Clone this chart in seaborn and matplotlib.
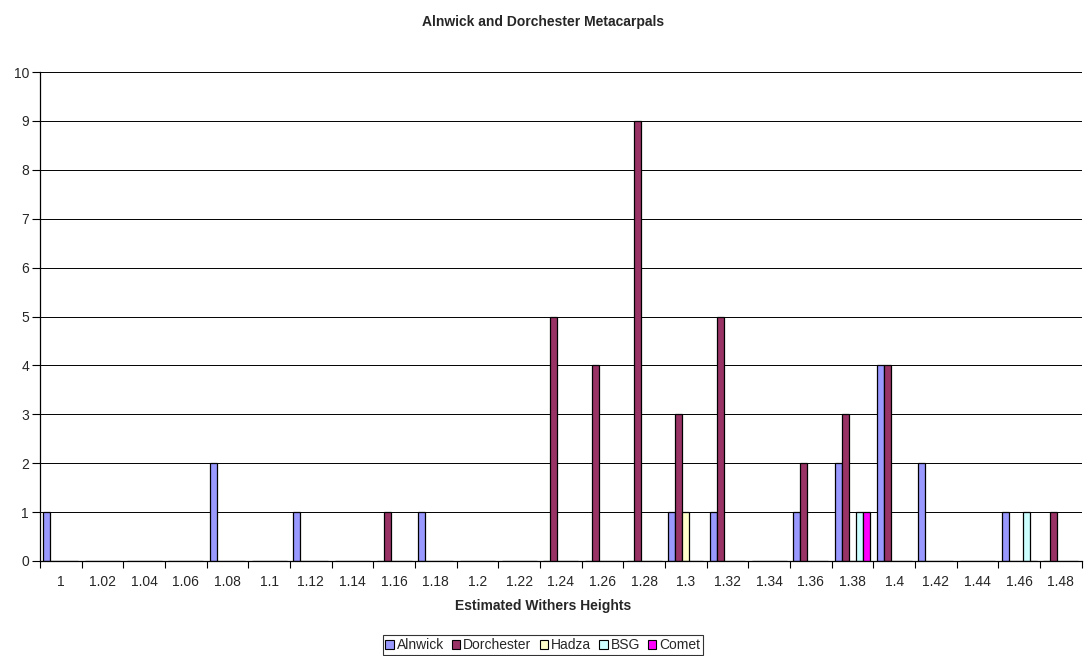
import pandas as pd
import matplotlib
matplotlib.use("Agg")
import matplotlib.pyplot as plt
import seaborn as sns
from matplotlib.patches import Patch

# Withers height classes (x categories)
heights = ["1", "1.02", "1.04", "1.06", "1.08", "1.1", "1.12", "1.14", "1.16", "1.18",
           "1.2", "1.22", "1.24", "1.26", "1.28", "1.3", "1.32", "1.34", "1.36", "1.38",
           "1.4", "1.42", "1.44", "1.46", "1.48"]

# counts per site
alnwick    = [1, 0, 0, 0, 2, 0, 1, 0, 0, 1, 0, 0, 0, 0, 0, 1, 1, 0, 1, 2, 4, 2, 0, 1, 0]
dorchester = [0, 0, 0, 0, 0, 0, 0, 0, 1, 0, 0, 0, 5, 4, 9, 3, 5, 0, 2, 3, 4, 0, 0, 0, 1]
hadza      = [0, 0, 0, 0, 0, 0, 0, 0, 0, 0, 0, 0, 0, 0, 0, 1, 0, 0, 0, 0, 0, 0, 0, 0, 0]
bsg        = [0, 0, 0, 0, 0, 0, 0, 0, 0, 0, 0, 0, 0, 0, 0, 0, 0, 0, 0, 1, 0, 0, 0, 1, 0]
comet      = [0, 0, 0, 0, 0, 0, 0, 0, 0, 0, 0, 0, 0, 0, 0, 0, 0, 0, 0, 1, 0, 0, 0, 0, 0]

sites = ["Alnwick", "Dorchester", "Hadza", "BSG", "Comet"]
colors = ["#9999FF", "#993366", "#FFFFCC", "#CCFFFF", "#FF00FF"]

series = [alnwick, dorchester, hadza, bsg, comet]
rows = []
for site, vals in zip(sites, series):
    for h, v in zip(heights, vals):
        rows.append({"Height": h, "Site": site, "Count": v})
df = pd.DataFrame(rows)

sns.set_style("white")
plt.rcParams["font.family"] = ["Liberation Sans", "DejaVu Sans"]

fig = plt.figure(figsize=(10.9, 6.56), dpi=100)
ax = fig.add_axes([40 / 1090, 95 / 656, 1041.7 / 1090, 489 / 656])

sns.barplot(data=df, x="Height", y="Count", hue="Site", order=heights,
            hue_order=sites, palette=colors, width=0.84, edgecolor="black",
            linewidth=0.9, saturation=1, legend=False, ax=ax)

ax.set_xlim(-0.5, len(heights) - 0.5)
ax.set_ylim(0, 10)
ax.set_yticks(range(0, 11))
ax.yaxis.grid(True, color="black", linewidth=0.7)
ax.set_axisbelow(True)

# category boundaries get the tick marks, labels sit in between
ax.set_xticks([i - 0.5 for i in range(len(heights) + 1)], minor=True)
ax.tick_params(axis="x", which="major", length=0, pad=10, labelsize=10)
ax.tick_params(axis="x", which="minor", length=5, width=0.8, color="black", direction="out")
ax.tick_params(axis="y", length=6, width=0.8, color="black", direction="out", pad=2, labelsize=10)
ax.xaxis.set_ticks_position("bottom")
ax.yaxis.set_ticks_position("left")

for s in ["top", "right"]:
    ax.spines[s].set_visible(False)
for s in ["left", "bottom"]:
    ax.spines[s].set_color("black")
    ax.spines[s].set_linewidth(0.9)

ax.set_xlabel("")
ax.set_ylabel("")

fig.text(0.498, 1 - 22 / 656, "Alnwick and Dorchester Metacarpals",
         ha="center", va="center", fontsize=10, fontweight="bold")
fig.text(0.498, 1 - 606 / 656, "Estimated Withers Heights",
         ha="center", va="center", fontsize=10, fontweight="bold")

handles = [Patch(facecolor=c, edgecolor="black", linewidth=0.8) for c in colors]
leg = fig.legend(handles, sites, loc="center", bbox_to_anchor=(0.498, 11 / 656),
                 ncol=5, fontsize=10, frameon=True, fancybox=False,
                 handlelength=0.6, handleheight=0.6, handletextpad=0.2,
                 columnspacing=0.6, borderpad=0.2, borderaxespad=0)
leg.get_frame().set_edgecolor("black")
leg.get_frame().set_linewidth(0.8)

fig.savefig("out.png", dpi=100)
